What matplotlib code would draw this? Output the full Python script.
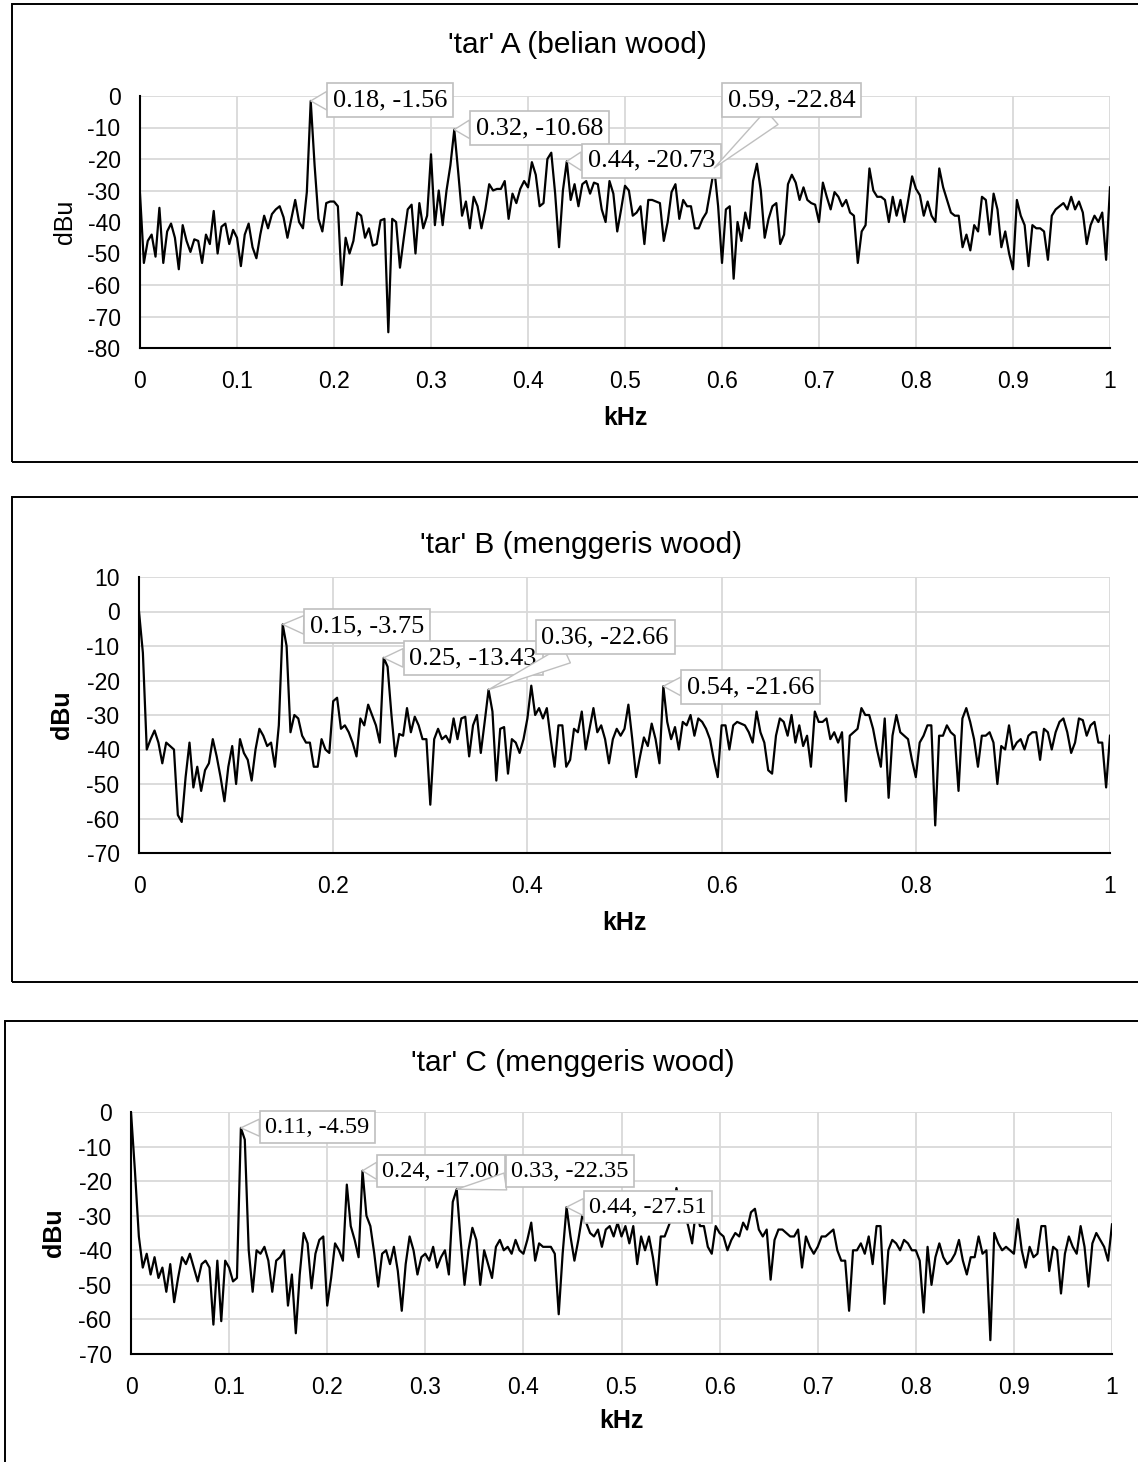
import numpy as np
import matplotlib
matplotlib.use("Agg")
import matplotlib.pyplot as plt
from matplotlib.patches import Rectangle

plt.rcParams['font.family'] = ['Liberation Sans', 'DejaVu Sans']
plt.rcParams['axes.unicode_minus'] = False

# ---------------- data ----------------
freq_khz = np.round(np.arange(251) * 0.004, 3)   # spectrum bins, 0 .. 1 kHz

dbu_a = [
    -31, -53, -46, -44, -51, -35.5, -53, -43, -40.5, -45,
    -55, -41, -46, -49.5, -45.5, -46, -53, -44, -47, -36.5,
    -50, -41.5, -40.5, -47, -42.5, -45, -54, -44, -40.5, -48,
    -51.5, -44, -38, -42, -37.5, -36, -35, -38.5, -45, -39,
    -33, -40, -42, -30.5, -1.56, -22, -39, -43, -34, -33.5,
    -33.5, -35, -60, -45, -50, -46, -37, -38, -45, -42,
    -47.5, -47, -39.5, -39, -75, -39, -40, -54.5, -45, -36,
    -34.5, -50, -34, -42, -38, -18.5, -41, -30, -41, -30,
    -22, -10.68, -24, -38, -33.5, -42, -32, -35, -42, -36,
    -28, -30, -29.5, -29.5, -27, -39, -31, -34, -29.5, -27,
    -29, -21, -25, -35, -34, -20, -18, -31, -48, -30,
    -20.73, -33, -28, -35, -28, -27, -31, -27.5, -28, -36,
    -40, -27, -31, -43, -36, -28.5, -30, -38, -37, -35,
    -47, -33, -33, -33.5, -34, -46, -40, -30.5, -28, -39,
    -33, -35, -35, -42, -42, -39, -37, -30, -22.84, -35,
    -53, -36, -35, -58, -40, -46, -37, -42, -27, -21.5,
    -30, -45, -39, -35, -34, -47, -44, -28, -25, -27.5,
    -33, -29, -33, -34, -34.5, -40, -27.5, -32, -36, -30.5,
    -32, -35, -33, -37, -38, -53, -43, -41, -23, -30,
    -32, -32, -33, -40, -32, -38, -33, -40, -33, -25.5,
    -29.5, -31.5, -38, -33.5, -38, -40, -23, -29, -33, -37,
    -38, -38, -48, -44, -49, -41, -43, -32, -33, -44,
    -31, -36, -48, -43, -50, -55, -33, -38, -41, -54,
    -41, -42, -42, -43, -52, -38, -36, -35, -34, -36,
    -32, -36, -33.5, -37, -47, -41, -38, -40, -37, -52,
    -29,
]

dbu_b = [
    0, -12, -40, -37, -34.5, -38, -44, -38, -39, -40,
    -59, -61, -48, -38, -51, -45, -52, -46, -44, -37,
    -42, -48, -55, -45, -39, -50, -37, -41, -43, -49,
    -40, -34, -36, -39, -38, -45, -33, -3.75, -10, -35,
    -30, -31, -36, -38, -38, -45, -45, -37, -40, -41,
    -26, -25, -34, -33, -35, -38, -42, -31, -33, -27,
    -30, -33, -38, -13.43, -16, -30, -42, -35.5, -36, -28,
    -35, -30.5, -33, -37, -37, -56, -37, -34, -37, -36,
    -38, -31, -37, -31, -30.5, -42, -33, -30, -41, -32,
    -22.66, -29, -49, -34, -33.5, -47, -37, -38, -41, -37,
    -31, -21.5, -30, -28, -31, -28, -37, -45, -33, -33,
    -45, -43, -34, -35, -29, -40, -34, -28, -35, -33,
    -37, -44, -37, -34, -36, -34, -27, -37, -48, -42,
    -36.5, -39, -32.5, -37, -44, -21.66, -32, -37, -33.5, -40,
    -32, -33, -30, -36, -31, -32, -34, -37, -43, -48,
    -33, -33, -40, -33, -32, -32.5, -33, -35, -38, -29,
    -35, -38, -46, -47, -36, -31, -32, -36, -30, -38,
    -33, -39, -36, -45, -29, -32, -32, -31, -37, -35,
    -38, -35, -55, -36, -35, -34, -28, -30, -30, -34,
    -40, -45, -31, -54, -36, -30, -35, -36, -37, -43,
    -48, -38, -36, -33, -33, -62, -36, -36, -33, -35,
    -36, -52, -31, -28, -32, -37, -45, -36, -36, -35,
    -38, -50, -39, -40, -33, -40, -38, -37, -40, -36,
    -35, -35, -43, -34, -35, -40, -35, -32, -31, -35,
    -41, -38, -31, -31.5, -36, -33, -32, -38, -38, -51,
    -36,
]

dbu_c = [
    0, -17, -36, -45, -41, -47, -42, -48, -45, -52,
    -44, -55, -48, -42, -44, -41, -45, -49, -44, -43,
    -45, -61.5, -43, -60.5, -43, -45, -49, -48, -4.59, -8,
    -40, -52, -40, -41, -39, -43, -52, -43, -42, -40,
    -56, -47, -64, -47, -35, -38, -51, -41, -37, -36,
    -56, -48, -38, -40, -43, -21, -33, -37, -42, -17.00,
    -30, -33, -41, -50.5, -41, -40, -44, -39, -46, -57.5,
    -44, -36, -40, -47, -42, -41, -43, -39, -45, -42,
    -40, -47, -26, -22.35, -37, -50, -40, -33.5, -37, -50,
    -40, -44, -48, -39, -37, -40, -39, -41, -37, -40,
    -41, -37, -32, -43, -38, -39, -39, -39, -41, -58.5,
    -41, -27.51, -36, -43, -37, -30, -32, -35, -36, -34,
    -39, -34, -33, -36, -32, -36, -33, -38, -33, -44,
    -36, -40, -36, -42, -50, -36, -36, -33, -30, -22,
    -28, -29, -33, -38, -28, -33, -33, -39, -41, -33,
    -35, -36, -40, -37, -35, -36, -32, -34, -29, -28,
    -34, -36, -34, -48.5, -37, -34, -34, -35, -36, -36,
    -34, -45, -36, -39, -41, -39, -36, -36, -35, -34,
    -40, -43, -43, -57.5, -40, -40, -38, -41, -36, -44,
    -33, -33, -55.5, -40, -37, -38, -40, -37, -38, -40,
    -40, -43, -58, -39, -50, -42, -38, -42, -44, -43,
    -41, -37, -43, -47, -42, -42, -36, -41, -40, -66,
    -35, -38, -40, -39, -40, -41, -31, -40, -45, -39,
    -42, -41, -33, -33, -46, -39, -40, -52.5, -41, -36,
    -39, -41, -33, -39, -50.5, -38, -35, -37, -39, -43,
    -32.5,
]

titles = ["'tar' A (belian wood)", "'tar' B (menggeris wood)", "'tar' C (menggeris wood)"]
x_label = "kHz"
y_label = "dBu"

peaks_a_khz = [0.176, 0.324, 0.440, 0.592]
peaks_a_txt = ["0.18, -1.56", "0.32, -10.68", "0.44, -20.73", "0.59, -22.84"]
peaks_b_khz = [0.148, 0.252, 0.360, 0.540]
peaks_b_txt = ["0.15, -3.75", "0.25, -13.43", "0.36, -22.66", "0.54, -21.66"]
peaks_c_khz = [0.112, 0.236, 0.332, 0.444]
peaks_c_txt = ["0.11, -4.59", "0.24, -17.00", "0.33, -22.35", "0.44, -27.51"]

xticks_a = [0, 0.1, 0.2, 0.3, 0.4, 0.5, 0.6, 0.7, 0.8, 0.9, 1]
xticks_b = [0, 0.2, 0.4, 0.6, 0.8, 1]
xticks_c = xticks_a
yticks_a = [0, -10, -20, -30, -40, -50, -60, -70, -80]
yticks_b = [10, 0, -10, -20, -30, -40, -50, -60, -70]
yticks_c = [0, -10, -20, -30, -40, -50, -60, -70]

for arr in (dbu_a, dbu_b, dbu_c):
    assert len(arr) == len(freq_khz), len(arr)

# ---------------- layout ----------------
W, H = 1138, 1462
fig = plt.figure(figsize=(W / 100, H / 100), dpi=100)


def fx(px):
    return px / W


def fy(py):
    return 1 - py / H


panels = [
    dict(y=dbu_a, pk=peaks_a_khz, txt=peaks_a_txt, xt=xticks_a, yt=yticks_a,
         ax=(140, 1110, 96, 348), box=(12, 3.5, 1141, 462), title=(577, 45),
         ylab_bold=False, ylab_x=65, xlab_top=406,
         lbl_pos=[(0.258, -1.3), (0.412, -10.2), (0.527, -20.6), (0.672, -1.3)],
         lbl_fs=19),
    dict(y=dbu_b, pk=peaks_b_khz, txt=peaks_b_txt, xt=xticks_b, yt=yticks_b,
         ax=(139, 1110, 577, 853), box=(12, 497, 1141, 982), title=(581, 545),
         ylab_bold=True, ylab_x=62, xlab_top=911,
         lbl_pos=[(0.235, -4.2), (0.344, -13.5), (0.480, -7.4), (0.630, -21.9)],
         lbl_fs=19),
    dict(y=dbu_c, pk=peaks_c_khz, txt=peaks_c_txt, xt=xticks_c, yt=yticks_c,
         ax=(131, 1112, 1112, 1354), box=(5, 1021, 1141, 1475), title=(573, 1063),
         ylab_bold=True, ylab_x=54, xlab_top=1409,
         lbl_pos=[(0.190, -4.4), (0.316, -17.1), (0.4475, -17.1), (0.527, -27.5)],
         lbl_fs=17.5),
]

for i, p in enumerate(panels):
    x0, x1, ytop, ybot = p['ax']
    ax = fig.add_axes([fx(x0), fy(ybot), fx(x1) - fx(x0), (ybot - ytop) / H])

    ax.plot(freq_khz, p['y'], color='black', lw=1.6, zorder=2)
    ax.set_xlim(0, 1)
    ax.set_ylim(min(p['yt']), max(p['yt']))
    ax.set_xticks(p['xt'])
    ax.set_xticklabels([f"{v:g}" for v in p['xt']])
    ax.set_yticks(p['yt'])
    ax.set_yticklabels([f"{v:g}" for v in p['yt']])
    ax.tick_params(axis='both', length=0, labelsize=16.5, colors='black')
    ax.tick_params(axis='y', pad=14)
    ax.tick_params(axis='x', pad=16)
    ax.set_axisbelow(True)
    ax.grid(True, color='#d9d9d9', lw=1.3)
    for s in ('top', 'right'):
        ax.spines[s].set_visible(False)
    for s in ('left', 'bottom'):
        ax.spines[s].set_color('black')
        ax.spines[s].set_linewidth(1.5)

    # axis labels
    ax.set_xlabel(x_label, fontsize=18, fontweight='bold', va='top')
    ax.xaxis.set_label_coords(0.5, (ybot - p['xlab_top']) / (ybot - ytop))
    ax.set_ylabel(y_label, fontsize=18, fontweight='bold' if p['ylab_bold'] else 'normal')
    ax.yaxis.label.set_verticalalignment('center')
    ax.yaxis.set_label_coords((p['ylab_x'] - x0) / (x1 - x0), 0.5)

    # peak callouts
    yarr = np.asarray(p['y'])
    for pk, txt, (tx, ty) in zip(p['pk'], p['txt'], p['lbl_pos']):
        k = int(np.argmin(np.abs(freq_khz - pk)))
        ax.annotate(txt, xy=(freq_khz[k], yarr[k]), xytext=(tx, ty),
                    ha='center', va='center', fontsize=p['lbl_fs'],
                    family=['Liberation Serif', 'DejaVu Serif'], color='black',
                    annotation_clip=False, zorder=5,
                    bbox=dict(boxstyle='square,pad=0.22', fc='white',
                              ec='#bfbfbf', lw=1.2),
                    arrowprops=dict(arrowstyle='wedge,tail_width=0.7,shrink_factor=0.5',
                                    fc='white', ec='#bfbfbf', lw=1.0,
                                    shrinkA=0, shrinkB=0))

    # title
    tx, ty = p['title']
    fig.text(fx(tx), fy(ty), titles[i], ha='center', va='center', fontsize=21.5,
             color='black')

    # chart frame
    bx0, by0, bx1, by1 = p['box']
    fig.add_artist(Rectangle((fx(bx0), fy(by1)), fx(bx1) - fx(bx0), (by1 - by0) / H,
                             transform=fig.transFigure, fill=False,
                             ec='black', lw=1.4, clip_on=False))

fig.savefig('out.png', dpi=100)
